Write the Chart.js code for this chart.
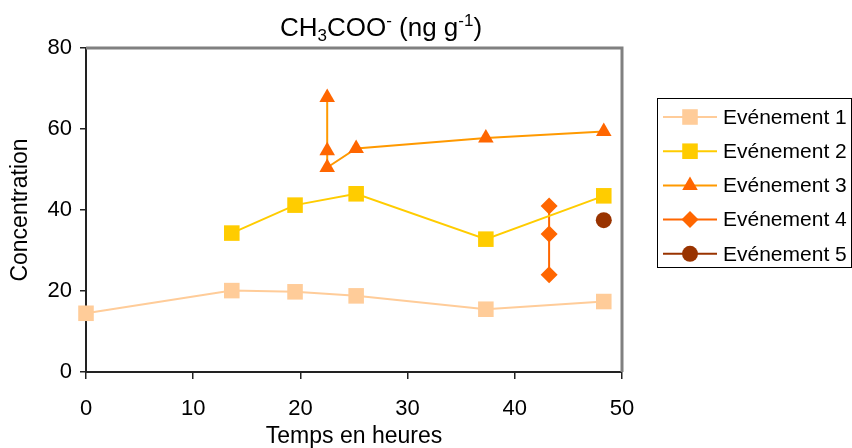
<!DOCTYPE html>
<html lang="fr">
<head>
    <meta charset="UTF-8">
    <title>CH3COO- (ng g-1)</title>
    <script src="https://cdn.jsdelivr.net/npm/chart.js"></script>
    <style>
        html, body { margin: 0; padding: 0; background: #fff; }
        #wrap { width: 852px; height: 448px; }
    </style>
</head>
<body>
    <div id="wrap"><canvas id="chart" width="852" height="448"></canvas></div>

    <script>
        // values (temps en heures / concentration)
        const seriesNames = ['Evénement 1', 'Evénement 2', 'Evénement 3', 'Evénement 4', 'Evénement 5'];

        const ev1Hours = [0, 13.6, 19.5, 25.2, 37.3, 48.3];
        const ev1Conc  = [14.5, 20.1, 19.8, 18.8, 15.5, 17.4];

        const ev2Hours = [13.6, 19.5, 25.2, 37.3, 48.3];
        const ev2Conc  = [34.3, 41.2, 44.0, 32.8, 43.5];

        const ev3Hours = [22.5, 22.5, 22.5, 25.2, 37.3, 48.3];
        const ev3Conc  = [67.8, 54.6, 50.5, 55.2, 57.8, 59.4];

        const ev4Hours = [43.2, 43.2, 43.2];
        const ev4Conc  = [41.0, 34.1, 24.0];

        const ev5Hours = [48.3];
        const ev5Conc  = [37.5];

        const xTicks = [0, 10, 20, 30, 40, 50];
        const yTicks = [0, 20, 40, 60, 80];

        const FONT = 'Liberation Sans, Arial, sans-serif';

        function pts(xs, ys) {
            return xs.map((x, i) => ({ x: x, y: ys[i] }));
        }

        function makeSet(i, xs, ys, lineColor, markColor, style, radius) {
            return {
                label: seriesNames[i],
                data: pts(xs, ys),
                showLine: true,
                borderColor: lineColor,
                borderWidth: 2,
                backgroundColor: markColor,
                pointBackgroundColor: markColor,
                pointBorderColor: markColor,
                pointBorderWidth: 0,
                pointStyle: style,
                pointRadius: radius,
                pointHoverRadius: radius,
                clip: false
            };
        }

        // title with sub/superscripts, drawn piece by piece
        const richTitle = {
            id: 'richTitle',
            afterDraw(chart) {
                const ctx = chart.ctx;
                const size = 26, small = 17;
                const parts = [
                    ['CH', size, 0], ['3', small, 5], ['COO', size, 0], ['-', small, -10],
                    [' (ng g', size, 0], ['-1', small, -10], [')', size, 0]
                ];
                ctx.save();
                ctx.fillStyle = '#000';
                ctx.textBaseline = 'alphabetic';
                let total = 0;
                parts.forEach(p => { ctx.font = p[1] + 'px ' + FONT; total += ctx.measureText(p[0]).width; });
                let x = 381 - total / 2;
                const base = 36;
                parts.forEach(p => {
                    ctx.font = p[1] + 'px ' + FONT;
                    ctx.textAlign = 'left';
                    ctx.fillText(p[0], x, base + p[2]);
                    x += ctx.measureText(p[0]).width;
                });
                ctx.restore();
            }
        };

        // grey top/right frame + legend box with line and marker symbols
        const frameAndLegend = {
            id: 'frameAndLegend',
            beforeDatasetsDraw(chart) {
                const ctx = chart.ctx;
                const a = chart.chartArea;
                ctx.save();
                ctx.strokeStyle = '#808080';
                ctx.lineWidth = 3;
                ctx.beginPath();
                ctx.moveTo(a.left, a.top);
                ctx.lineTo(a.right, a.top);
                ctx.lineTo(a.right, a.bottom);
                ctx.stroke();
                ctx.restore();
            },
            afterDraw(chart) {
                const ctx = chart.ctx;
                ctx.save();
                ctx.strokeStyle = '#000';
                ctx.lineWidth = 1;
                ctx.strokeRect(657.5, 98.5, 194, 169);
                chart.data.datasets.forEach((ds, i) => {
                    const y = 117 + i * 34.2;
                    ctx.strokeStyle = ds.borderColor;
                    ctx.lineWidth = 2;
                    ctx.beginPath();
                    ctx.moveTo(663, y);
                    ctx.lineTo(717, y);
                    ctx.stroke();
                    ctx.fillStyle = ds.pointBackgroundColor;
                    Chart.helpers.drawPoint(ctx, {
                        pointStyle: ds.pointStyle,
                        radius: ds.pointRadius,
                        rotation: 0,
                        borderWidth: 0
                    }, 690, y);
                    ctx.fillStyle = '#000';
                    ctx.font = '21px ' + FONT;
                    ctx.textAlign = 'left';
                    ctx.textBaseline = 'middle';
                    ctx.fillText(ds.label, 723, y + 1);
                });
                ctx.restore();
            }
        };

        const ctx = document.getElementById('chart').getContext('2d');
        const chart = new Chart(ctx, {
            type: 'scatter',
            data: {
                datasets: [
                    makeSet(0, ev1Hours, ev1Conc, '#FFCC99', '#FFCC99', 'rect', 11),
                    makeSet(1, ev2Hours, ev2Conc, '#FFCC00', '#FFCC00', 'rect', 11),
                    makeSet(2, ev3Hours, ev3Conc, '#FF9900', '#FF6600', 'triangle', 9),
                    makeSet(3, ev4Hours, ev4Conc, '#FF6600', '#FF6600', 'rectRot', 8.5),
                    makeSet(4, ev5Hours, ev5Conc, '#993300', '#993300', 'circle', 8)
                ]
            },
            options: {
                responsive: false,
                animation: false,
                layout: { padding: { top: 48, right: 230, bottom: 0, left: 0 } },
                plugins: {
                    legend: { display: false },
                    title: { display: false },
                    tooltip: { enabled: false }
                },
                scales: {
                    x: {
                        type: 'linear',
                        min: 0,
                        max: 50,
                        afterFit: s => { s.height = 76; },
                        afterBuildTicks: s => { s.ticks = xTicks.map(v => ({ value: v })); },
                        ticks: { color: '#000', font: { family: FONT, size: 22 }, padding: 17, maxRotation: 0 },
                        grid: { drawOnChartArea: false, drawTicks: true, tickLength: 7, color: '#222', lineWidth: 1.5 },
                        border: { color: '#222', width: 2 },
                        title: { display: true, text: 'Temps en heures', color: '#000', font: { family: FONT, size: 23 }, padding: { top: 0, bottom: -2 } }
                    },
                    y: {
                        min: 0,
                        max: 80,
                        afterFit: s => { s.width = 86; },
                        afterBuildTicks: s => { s.ticks = yTicks.map(v => ({ value: v })); },
                        ticks: { color: '#000', font: { family: FONT, size: 22 }, padding: 8 },
                        grid: { drawOnChartArea: false, drawTicks: true, tickLength: 6, color: '#222', lineWidth: 1.5 },
                        border: { color: '#222', width: 2 },
                        title: { display: true, text: 'Concentration', color: '#000', font: { family: FONT, size: 23 }, padding: { top: 7, bottom: 0 } }
                    }
                }
            },
            plugins: [richTitle, frameAndLegend]
        });
    </script>
</body>
</html>
